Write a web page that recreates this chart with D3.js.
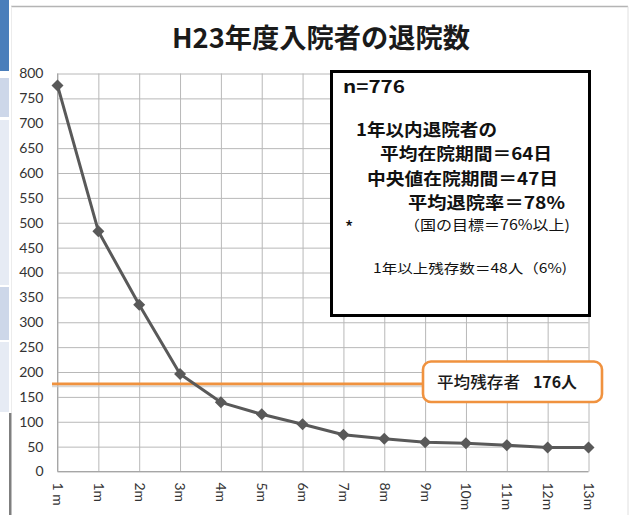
<!DOCTYPE html>
<html>
<head>
<meta charset="utf-8">
<script src="https://cdn.jsdelivr.net/npm/d3@7"></script>
<style>
  html, body { margin: 0; padding: 0; background: #ffffff; }
  svg { display: block; }
</style>
</head>
<body>
<svg id="chart" width="630" height="515"></svg>
<script>
// Months since admission and number of patients still in hospital
const months = ["1 m", "1m", "2m", "3m", "4m", "5m", "6m", "7m", "8m", "9m", "10m", "11m", "12m", "13m"];
const remaining = [776, 483, 335, 196, 139, 115, 95, 74, 66, 59, 57, 53, 48, 48];
const yTickValues = [0, 50, 100, 150, 200, 250, 300, 350, 400, 450, 500, 550, 600, 650, 700, 750, 800];
const meanRemaining = 176;

const titleText = "H23年度入院者の退院数";
const summaryLines = [
  "n=776",
  "1年以内退院者の",
  "平均在院期間＝64日",
  "中央値在院期間＝47日",
  "平均退院率＝78%",
  "*",
  "（国の目標＝76%以上)",
  "1年以上残存数＝48人（6%)"
];
const meanLabel = "平均残存者";
const meanValueLabel = meanRemaining + "人";

const svg = d3.select("#chart");
const JP = "'Noto Sans CJK JP', 'Noto Sans', sans-serif";
const AX = "Lato, 'Open Sans', sans-serif";

// Slide furniture on the left edge and frame
svg.append("rect").attr("x", 0).attr("y", 0).attr("width", 9).attr("height", 71).attr("fill", "#4a7ebb");
[[78, 117, "#cdd7e9"], [120, 285, "#e6ebf4"], [287, 340, "#cdd7e9"], [342, 412, "#e6ebf4"]].forEach(p => {
  svg.append("rect").attr("x", 0).attr("y", p[0]).attr("width", 9).attr("height", p[1] - p[0]).attr("fill", p[2]);
});
svg.append("rect").attr("x", 9).attr("y", 413).attr("width", 2.5).attr("height", 102).attr("fill", "#7f7f7f");
svg.append("line").attr("x1", 11).attr("x2", 628).attr("y1", 6.5).attr("y2", 6.5)
  .attr("stroke", "#b4b4b4").attr("stroke-width", 1.5);
svg.append("line").attr("x1", 628).attr("x2", 628).attr("y1", 6.5).attr("y2", 515)
  .attr("stroke", "#e0e0e0").attr("stroke-width", 1);
svg.append("line").attr("x1", 11.5).attr("x2", 11.5).attr("y1", 6.5).attr("y2", 413)
  .attr("stroke", "#ececec").attr("stroke-width", 1);

// Title
svg.append("text")
  .attr("x", 172).attr("y", 48)
  .attr("textLength", 298).attr("lengthAdjust", "spacingAndGlyphs")
  .style("font-family", JP).style("font-size", "27px").style("font-weight", 700)
  .attr("fill", "#1a1a1a")
  .text(titleText);

// Scales
const x = d3.scaleLinear().domain([0, months.length - 1]).range([57.5, 588.5]);
const y = d3.scaleLinear().domain([0, 800]).range([471.5, 73.5]);

// Horizontal gridlines + y labels
const yAxis = svg.append("g")
  .attr("transform", `translate(${x(0)},0)`)
  .call(d3.axisLeft(y).tickValues(yTickValues).tickSize(-(x(months.length - 1) - x(0))).tickPadding(14));
yAxis.select(".domain").remove();
yAxis.selectAll(".tick line").attr("stroke", "#b8b8b8").attr("stroke-width", 1);
yAxis.selectAll(".tick text")
  .style("font-family", AX).style("font-size", "14px").attr("fill", "#333333");

// Vertical gridlines + rotated month labels
const xAxis = svg.append("g")
  .attr("transform", `translate(0,${y(0)})`)
  .call(d3.axisBottom(x).tickValues(d3.range(months.length)).tickFormat(i => months[i])
    .tickSize(-(y(0) - y(800))));
xAxis.select(".domain").remove();
xAxis.selectAll(".tick line").attr("stroke", "#b8b8b8").attr("stroke-width", 1);
xAxis.selectAll(".tick text")
  .attr("y", 0).attr("dy", "0.36em")
  .attr("text-anchor", "start")
  .attr("transform", "translate(0,11) rotate(90)")
  .style("font-family", AX).style("font-size", "14px").attr("fill", "#333333");

// Axis lines
svg.append("line").attr("x1", x(0)).attr("x2", x(months.length - 1)).attr("y1", y(0)).attr("y2", y(0))
  .attr("stroke", "#a6a6a6").attr("stroke-width", 1);
svg.append("line").attr("x1", x(0)).attr("x2", x(0)).attr("y1", y(0)).attr("y2", y(800))
  .attr("stroke", "#a6a6a6").attr("stroke-width", 1);

// Mean remaining line (with a soft shadow) and its callout
const boxX = 423, boxW = 179, boxY = 361.5, boxH = 40.5;
svg.append("line").attr("x1", 52).attr("x2", boxX).attr("y1", y(meanRemaining) + 2.2).attr("y2", y(meanRemaining) + 2.2)
  .attr("stroke", "#c8c8c8").attr("stroke-width", 2).attr("opacity", 0.7);
svg.append("line").attr("x1", 52).attr("x2", boxX).attr("y1", y(meanRemaining)).attr("y2", y(meanRemaining))
  .attr("stroke", "#f0923f").attr("stroke-width", 2.8);

// Survival curve
const line = d3.line().x((d, i) => x(i)).y(d => y(d));
svg.append("path").datum(remaining)
  .attr("d", line).attr("fill", "none")
  .attr("stroke", "#595959").attr("stroke-width", 3).attr("stroke-linejoin", "round");
svg.selectAll("path.marker").data(remaining).join("path")
  .attr("class", "marker")
  .attr("d", "M0,-6L6,0L0,6L-6,0Z")
  .attr("transform", (d, i) => `translate(${x(i)},${y(d)})`)
  .attr("fill", "#595959");

// Callout box for the mean
svg.append("rect")
  .attr("x", boxX).attr("y", boxY).attr("width", boxW).attr("height", boxH).attr("rx", 8)
  .attr("fill", "#ffffff").attr("stroke", "#f0923f").attr("stroke-width", 2.6);
svg.append("text").attr("x", 437).attr("y", 387.5)
  .attr("textLength", 83).attr("lengthAdjust", "spacingAndGlyphs")
  .style("font-family", JP).style("font-size", "16px").style("font-weight", 500).attr("fill", "#1a1a1a")
  .text(meanLabel);
svg.append("text").attr("x", 533).attr("y", 387.5)
  .attr("textLength", 44).attr("lengthAdjust", "spacingAndGlyphs")
  .style("font-family", JP).style("font-size", "16px").style("font-weight", 700).attr("fill", "#1a1a1a")
  .text(meanValueLabel);

// Summary box
svg.append("rect")
  .attr("x", 331.5).attr("y", 71.5).attr("width", 258).attr("height", 244)
  .attr("fill", "#ffffff").attr("stroke", "#000000").attr("stroke-width", 3);

const summaryLayout = [
  { x: 343, y: 93,  w: 62,  size: 17, weight: 700 },
  { x: 356, y: 136, w: 141, size: 17, weight: 700 },
  { x: 380, y: 160, w: 172, size: 17, weight: 700 },
  { x: 367, y: 185, w: 191, size: 17, weight: 700 },
  { x: 408, y: 209, w: 157, size: 17, weight: 700 },
  { x: 345, y: 234, w: null, size: 17, weight: 500 },
  { x: 404, y: 230, w: 166, size: 14, weight: 400 },
  { x: 373, y: 273, w: 194, size: 13, weight: 400 }
];
svg.selectAll("text.summary").data(summaryLines).join("text")
  .attr("class", "summary")
  .attr("x", (d, i) => summaryLayout[i].x)
  .attr("y", (d, i) => summaryLayout[i].y)
  .each(function (d, i) {
    if (summaryLayout[i].w) {
      d3.select(this).attr("textLength", summaryLayout[i].w).attr("lengthAdjust", "spacingAndGlyphs");
    }
  })
  .style("font-family", JP)
  .style("font-size", (d, i) => summaryLayout[i].size + "px")
  .style("font-weight", (d, i) => summaryLayout[i].weight)
  .attr("fill", "#111111")
  .text(d => d);
</script>
</body>
</html>
